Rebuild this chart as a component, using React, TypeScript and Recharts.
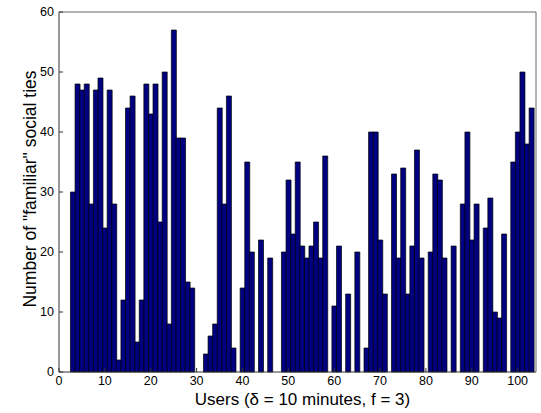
import React from 'react';
import { BarChart, Bar, XAxis, YAxis } from 'recharts';

// users 1..103, number of "familiar" social ties per user
const users = Array.from({ length: 103 }, (_, i) => i + 1);
const ties = [
	0, 0, 30, 48, 47, 48, 28, 47, 49, 24,
	47, 28, 2, 12, 44, 46, 5, 12, 48, 43,
	48, 25, 50, 8, 57, 39, 39, 15, 14, 0,
	0, 3, 6, 8, 44, 28, 46, 4, 0, 14,
	35, 20, 0, 22, 0, 19, 0, 0, 20, 32,
	23, 35, 21, 19, 21, 25, 19, 36, 0, 11,
	21, 0, 13, 0, 20, 0, 4, 40, 40, 22,
	13, 0, 33, 19, 34, 13, 21, 37, 19, 0,
	20, 33, 32, 19, 0, 21, 0, 28, 40, 22,
	28, 0, 24, 29, 10, 9, 23, 0, 35, 40,
	50, 38, 44,
];
const xTicks = [0, 10, 20, 30, 40, 50, 60, 70, 80, 90, 100];
const yTicks = [0, 10, 20, 30, 40, 50, 60];

const data = users.map((u, i) => ({ user: u, ties: ties[i] }));

const font = 'Liberation Sans, Arial, sans-serif';
const tickStyle = { fontSize: 12.5, fill: '#000', fontFamily: font };
const axisColor = '#333';

export default function App() {
	return (
		<div style={{ position: 'absolute', left: 0, top: 0, background: '#fff' }}>
			<BarChart
				width={541}
				height={413}
				data={data}
				margin={{ top: 11, right: 4, bottom: 0, left: 0 }}
				barCategoryGap={0}
				barGap={0}
			>
				<XAxis
					dataKey="user"
					type="number"
					domain={[0, 104]}
					ticks={xTicks}
					allowDataOverflow
					height={41}
					tickSize={-4}
					tickMargin={8}
					tick={tickStyle}
					stroke={axisColor}
					label={{
						value: 'Users (δ = 10 minutes, f = 3)',
						position: 'insideBottom',
						offset: 8,
						dx: 5,
						style: { fontSize: 17, fill: '#000', fontFamily: font },
					}}
				/>
				<XAxis
					xAxisId="top"
					orientation="top"
					dataKey="user"
					type="number"
					domain={[0, 104]}
					ticks={xTicks}
					allowDataOverflow
					height={1}
					tickSize={-4}
					tick={false}
					stroke="#666"
				/>
				<YAxis
					domain={[0, 60]}
					ticks={yTicks}
					width={59}
					tickSize={-4}
					tickMargin={9}
					tick={tickStyle}
					stroke={axisColor}
					label={{
						value: 'Number of "familiar" social ties',
						angle: -90,
						position: 'insideLeft',
						offset: 30,
						dy: -3,
						style: { textAnchor: 'middle', fontSize: 17.5, fill: '#000', fontFamily: font },
					}}
				/>
				<YAxis
					yAxisId="right"
					orientation="right"
					domain={[0, 60]}
					ticks={yTicks}
					width={1}
					tickSize={-4}
					tick={false}
					stroke="#666"
				/>
				<Bar
					dataKey="ties"
					fill="#000080"
					stroke="#000"
					strokeWidth={0.7}
					isAnimationActive={false}
				/>
			</BarChart>
		</div>
	);
}
